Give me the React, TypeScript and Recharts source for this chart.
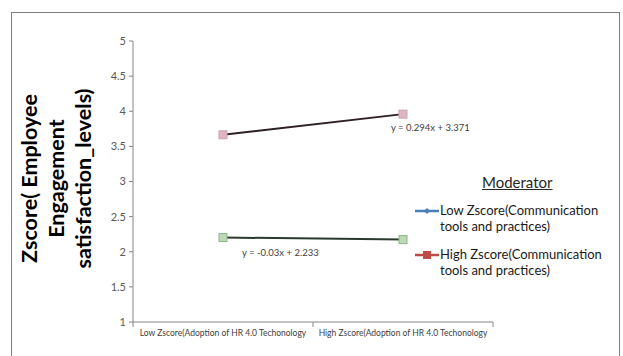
import React from 'react';
import { LineChart, Line, XAxis, YAxis } from 'recharts';

const categories = [
  'Low Zscore(Adoption of HR 4.0 Techonology',
  'High Zscore(Adoption of HR 4.0 Techonology',
];
const lowModerator = [2.203, 2.173];
const highModerator = [3.665, 3.959];
const yTicks = [1, 1.5, 2, 2.5, 3, 3.5, 4, 4.5, 5];
const xTicks = [0, 0.5, 1, 1.5, 2];
const seriesNames = [
  ['Low Zscore(Communication', 'tools and practices)'],
  ['High Zscore(Communication', 'tools and practices)'],
];
const equations = ['y = -0.03x + 2.233', 'y = 0.294x + 3.371'];
const yTitle = ['Zscore( Employee', 'Engagement', 'satisfaction_levels)'];

const data = categories.map((name, i) => ({
  x: i + 0.5,
  name,
  low: lowModerator[i],
  high: highModerator[i],
}));

const FONT = 'Lato, "Open Sans", sans-serif';
const AXIS = '#868686';

const XTick = (props: any) => {
  const { x, y, payload } = props;
  const v = payload.value;
  if (v % 1 === 0) {
    return <line x1={x} y1={y} x2={x} y2={y + 5} stroke={AXIS} />;
  }
  return (
    <text x={x} y={y + 14} textAnchor="middle" fontSize={8.5} fill="#404040" fontFamily={FONT}>
      {categories[Math.floor(v)]}
    </text>
  );
};

const squareDot = (fill: string, stroke: string) => (props: any) => {
  const { cx, cy, index } = props;
  return <rect key={index} x={cx - 4} y={cy - 4} width={8} height={8} fill={fill} stroke={stroke} strokeWidth={1} />;
};

const eqLabel = (text: string, at: number, dx: number, dy: number) => (props: any) => {
  const { x, y, index } = props;
  if (index !== at) return null;
  return (
    <text key={index} x={x + dx} y={y + dy} fontSize={9.5} fill="#404040" fontFamily={FONT}>
      {text}
    </text>
  );
};

const YTitle = (props: any) => {
  const vb = props.viewBox;
  const cy = vb.y + vb.height / 2 - 3;
  return (
    <g>
      {yTitle.map((t, i) => (
        <text
          key={t}
          x={29 + i * 27}
          y={cy}
          transform={`rotate(-90, ${29 + i * 27}, ${cy})`}
          textAnchor="middle"
          dominantBaseline="central"
          fontSize={21.5}
          fontWeight="bold"
          fill="#000"
          fontFamily={FONT}
        >
          {t}
        </text>
      ))}
    </g>
  );
};

const LegendIcon = ({ color, shape }: { color: string; shape: string }) => (
  <svg width={26} height={10} style={{ display: 'block' }}>
    <line x1={1} y1={5} x2={25} y2={5} stroke={color} strokeWidth={2.5} />
    {shape === 'diamond' ? (
      <polygon points="13,2 16,5 13,8 10,5" fill={color} />
    ) : (
      <rect x={9} y={1} width={8} height={8} fill={color} />
    )}
  </svg>
);

const legendItems = [
  { lines: seriesNames[0], color: '#4a7ebb', shape: 'diamond' },
  { lines: seriesNames[1], color: '#be4b48', shape: 'square' },
];

export default function App() {
  return (
    <div style={{ position: 'absolute', left: 0, top: 0, width: 623, height: 356, background: '#fff', overflow: 'hidden' }}>
      <div
        style={{
          position: 'absolute',
          left: 11,
          top: 12,
          width: 609,
          height: 400,
          border: '1px solid #7f7f7f',
          boxSizing: 'border-box',
        }}
      />
      <div style={{ position: 'absolute', left: 0, top: 0 }}>
        <LineChart width={623} height={356} data={data} margin={{ top: 41, right: 130, left: 93, bottom: 14 }}>
          <XAxis
            type="number"
            dataKey="x"
            domain={[0, 2]}
            ticks={xTicks}
            interval={0}
            tick={<XTick />}
            tickLine={false}
            tickSize={0}
            tickMargin={0}
            height={20}
            axisLine={{ stroke: AXIS }}
          />
          <YAxis
            domain={[1, 5]}
            ticks={yTicks}
            interval={0}
            width={40}
            tickSize={4}
            tickMargin={3}
            tickLine={{ stroke: AXIS }}
            axisLine={{ stroke: AXIS }}
            tick={{ fontSize: 11, fill: '#595959', fontFamily: FONT }}
            label={<YTitle />}
          />
          <Line
            type="linear"
            dataKey="high"
            stroke="#2e1f26"
            strokeWidth={2}
            dot={squareDot('#dcb4c2', '#cfa3b3')}
            label={eqLabel(equations[1], 1, -12, 17)}
            isAnimationActive={false}
          />
          <Line
            type="linear"
            dataKey="low"
            stroke="#2a3a2c"
            strokeWidth={2}
            dot={squareDot('#bcd8b6', '#8fb58a')}
            label={eqLabel(equations[0], 0, 19, 19)}
            isAnimationActive={false}
          />
        </LineChart>
      </div>
      <div style={{ position: 'absolute', left: 414, top: 173, fontFamily: FONT, color: '#1a1a1a' }}>
        <div style={{ marginLeft: 68, fontSize: 15, textDecoration: 'underline', marginBottom: 11, color: '#262626' }}>
          Moderator
        </div>
        {legendItems.map((it) => (
          <div key={it.lines[0]} style={{ display: 'flex', alignItems: 'flex-start', marginBottom: 12 }}>
            <div style={{ marginTop: 4 }}>
              <LegendIcon color={it.color} shape={it.shape} />
            </div>
            <div style={{ fontSize: 13, lineHeight: '16px' }}>
              {it.lines.map((l) => (
                <div key={l}>{l}</div>
              ))}
            </div>
          </div>
        ))}
      </div>
    </div>
  );
}
